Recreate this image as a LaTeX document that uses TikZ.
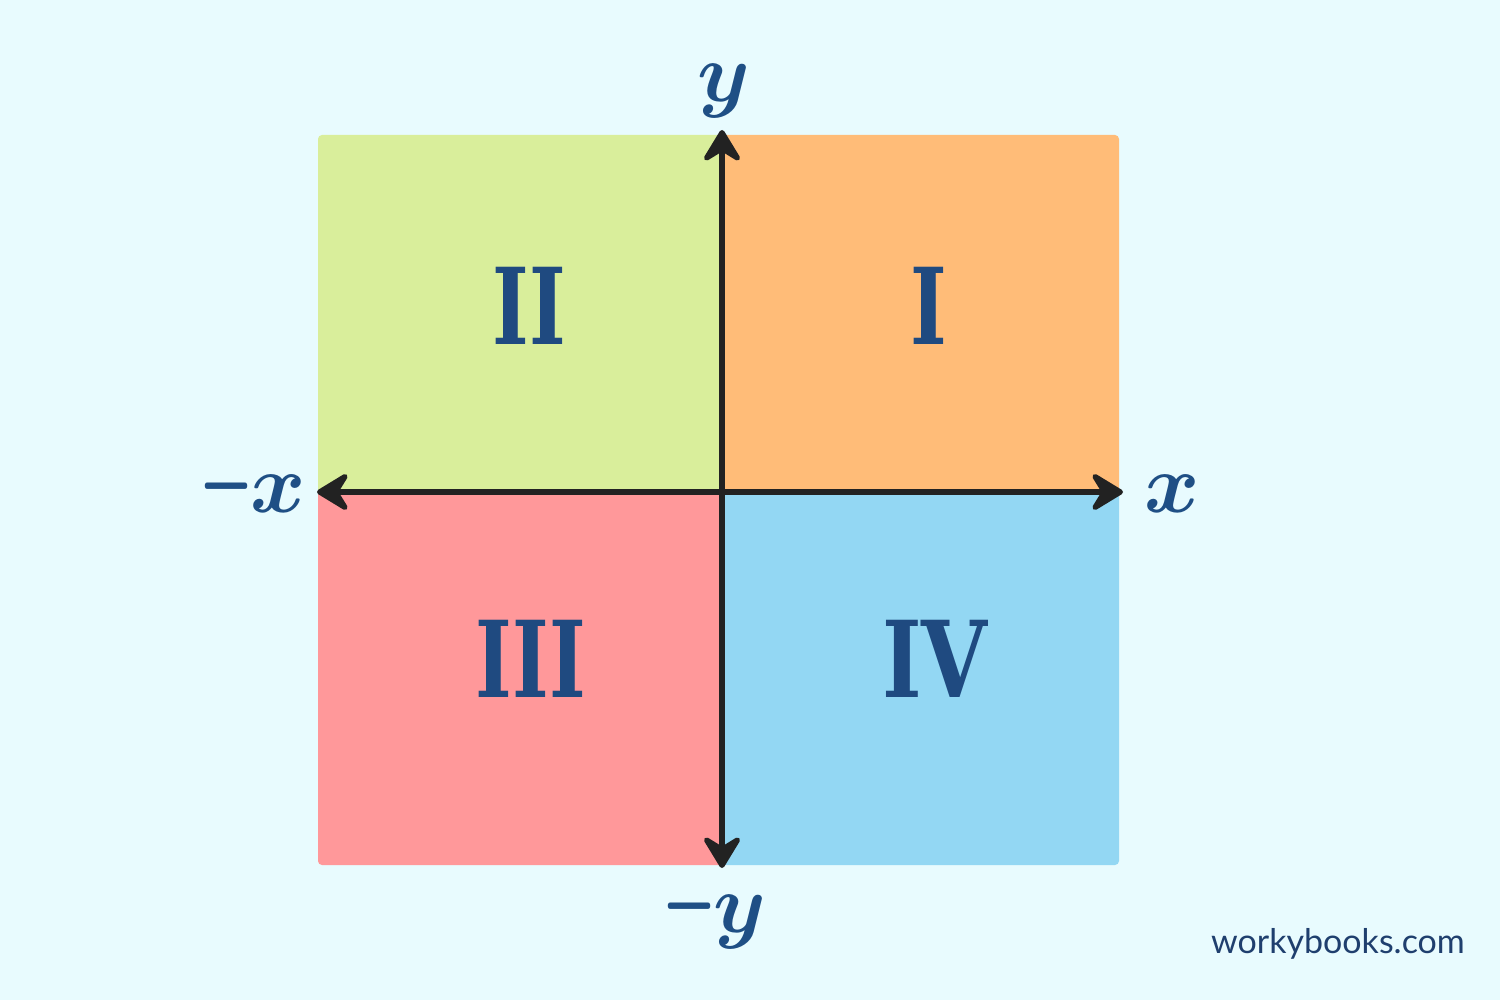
\documentclass[tikz,border=0pt]{standalone}
\usepackage{amsmath,bm}
\usepackage{fontspec}
\newfontfamily\webfont{Lato}
\newfontfamily\numfont{DejaVu Serif}
\usetikzlibrary{arrows.meta}
\definecolor{bgc}{HTML}{E8FBFE}
\definecolor{qone}{HTML}{FFBC78}
\definecolor{qtwo}{HTML}{D9EE9B}
\definecolor{qthree}{HTML}{FF989A}
\definecolor{qfour}{HTML}{93D7F3}
\definecolor{numc}{HTML}{1F4A80}
\definecolor{axc}{HTML}{222222}
\definecolor{labc}{HTML}{1F4F85}
\definecolor{webc}{HTML}{1F3F6E}
\newcommand{\biglab}[1]{\scalebox{4.2}{$\bm{#1}$}}
\newcommand{\bigneg}{\scalebox{4.2}{\scalebox{0.72}[1.25]{$\bm{-}$}\kern-0.4pt}}
\tikzset{
  quad/.style={rounded corners=2pt},
  numeral/.style={text=numc,font=\numfont\bfseries\fontsize{53}{58}\selectfont},
  axlabel/.style={text=labc,inner sep=0pt},
  axis/.style={draw=axc,line width=2.6pt,
    {Stealth[length=19pt,width=23pt,round,inset=7pt]}-{Stealth[length=19pt,width=23pt,round,inset=7pt]}},
}
\begin{document}
\begin{tikzpicture}[x=0.5pt,y=-0.5pt]
\useasboundingbox (0,0) rectangle (1500,1000);
\fill[bgc] (0,0) rectangle (1500,1000);
% quadrants
\fill[qtwo,quad] (318,135) rectangle (724,494);
\fill[qone,quad] (720,135) rectangle (1119,494);
\fill[qthree,quad] (318,490) rectangle (724,865);
\fill[qfour,quad] (720,490) rectangle (1119,865);
% numerals
\node[numeral] (n2) at (529,306) {\scalebox{0.74}[1]{II}};
\node[numeral] (n1) at (929,306) {\scalebox{0.74}[1]{I}};
\node[numeral] (n3) at (531,659) {\scalebox{0.74}[1]{III}};
\node[numeral] (n4) at (935,659) {\scalebox{0.8}[1]{IV}};
% axes
\coordinate (L) at (317,492);
\coordinate (R) at (1123,492);
\coordinate (T) at (722,130);
\coordinate (B) at (722,868);
\draw[axis] (L) -- (R);
\draw[axis] (B) -- (T);
% axis labels
\node[axlabel,anchor=base] (ly) at (724,102) {\biglab{y}};
\node[axlabel,anchor=base] (lx) at (1172,512) {\biglab{x}};
\node[axlabel,anchor=base] (lmx) at (253,512) {\bigneg\biglab{x}};
\node[axlabel,anchor=base] (lmy) at (714,932) {\bigneg\biglab{y}};
% watermark
\node[text=webc,font=\webfont\fontsize{17}{20}\selectfont,anchor=base] (web) at (1338,953) {workybooks.com};
\end{tikzpicture}
\end{document}
